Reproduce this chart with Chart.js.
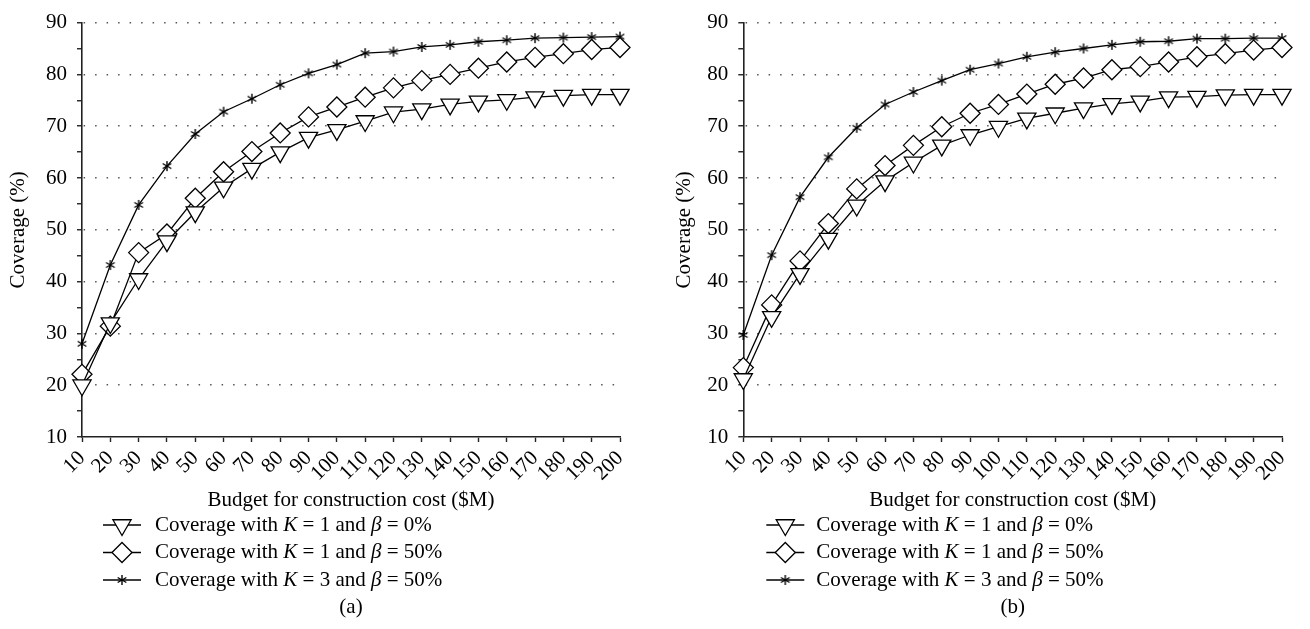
<!DOCTYPE html>
<html><head><meta charset="utf-8">
<script src="https://cdn.jsdelivr.net/npm/chart.js@4/dist/chart.umd.min.js"></script>
<style>
html,body{margin:0;padding:0;background:#fff;}
#wrap{position:relative;width:1310px;height:629px;overflow:hidden;}
.panel{position:absolute;top:0;width:655px;height:629px;}
canvas{display:block;}
</style></head><body>
<div id="wrap">
<div class="panel" style="left:0"><canvas id="ca" width="655" height="629"></canvas></div>
<div class="panel" style="left:655px"><canvas id="cb" width="655" height="629"></canvas></div>
</div>
<script>
// ---- data ----
const budgets = [10,20,30,40,50,60,70,80,90,100,110,120,130,140,150,160,170,180,190,200];
const yMin = 10, yMax = 90, yStep = 5, yLabelStep = 10;
const seriesLabels = [
  "Coverage with K = 1 and \u03B2 = 0%",
  "Coverage with K = 1 and \u03B2 = 50%",
  "Coverage with K = 3 and \u03B2 = 50%"
];
const xTitle = "Budget for construction cost ($M)";
const yTitle = "Coverage (%)";
const captions = ["(a)", "(b)"];

// panel (a)
const aK1b0  = [20.0,32.0,40.5,47.8,53.4,58.2,61.8,65.0,67.8,69.3,71.0,72.7,73.3,74.2,74.8,75.1,75.6,75.9,76.1,76.1];
const aK1b50 = [22.1,31.4,45.6,49.2,56.1,61.2,65.1,68.7,71.8,73.7,75.6,77.4,78.8,80.0,81.2,82.4,83.3,84.0,84.8,85.2];
const aK3b50 = [28.0,43.2,54.8,62.3,68.5,72.8,75.3,78.0,80.2,81.9,84.1,84.4,85.3,85.7,86.3,86.6,87.0,87.1,87.2,87.3];
// panel (b)
const bK1b0  = [21.2,33.2,41.5,48.3,54.7,59.4,63.0,66.3,68.3,69.9,71.5,72.5,73.5,74.3,74.8,75.6,75.7,76.0,76.1,76.1];
const bK1b50 = [23.4,35.5,44.0,51.2,57.9,62.4,66.3,69.9,72.5,74.2,76.2,78.1,79.3,80.9,81.5,82.4,83.4,84.0,84.7,85.2];
const bK3b50 = [29.7,45.1,56.3,64.0,69.7,74.2,76.6,78.8,80.9,82.1,83.4,84.3,85.0,85.7,86.3,86.4,86.9,86.9,87.0,87.0];

// ---- styling ----
const FONT = "'Liberation Serif', 'Times New Roman', serif";
const FS = 21;

// asterisk marker
function makeStar() {
  const c = document.createElement('canvas');
  c.width = 14; c.height = 14;
  const g = c.getContext('2d');
  g.strokeStyle = '#000'; g.lineWidth = 1.4; g.lineCap = 'butt';
  const r = 5;
  [90, 30, 150].forEach(a => {
    const t = a * Math.PI / 180;
    g.beginPath();
    g.moveTo(7 - Math.cos(t) * r, 7 - Math.sin(t) * r);
    g.lineTo(7 + Math.cos(t) * r, 7 + Math.sin(t) * r);
    g.stroke();
  });
  return c;
}
const starImg = makeStar();

function datasets(t, d, s) {
  return [
    {label: seriesLabels[0], data: t, pointStyle: 'triangle', pointRotation: 180, pointRadius: 10.5},
    {label: seriesLabels[1], data: d, pointStyle: 'rectRot', pointRotation: 0, pointRadius: 10},
    {label: seriesLabels[2], data: s, pointStyle: starImg, pointRotation: 0, pointRadius: 5}
  ].map(ds => Object.assign(ds, {
    borderColor: '#000', borderWidth: 1.3, backgroundColor: '#fff',
    pointBackgroundColor: '#fff', pointBorderColor: '#000', pointBorderWidth: 1.3,
    pointHoverRadius: ds.pointRadius, tension: 0, fill: false, clip: false
  }));
}

const legendPlugin = {
  id: 'serifLegend',
  afterDraw(chart, args, opts) {
    const ctx = chart.ctx, area = chart.chartArea;
    ctx.save();
    chart.data.datasets.forEach((ds, i) => {
      const y = opts.rows[i];
      const cx = area.left + opts.symbolOffset;
      ctx.strokeStyle = '#000'; ctx.lineWidth = 1.3;
      ctx.beginPath(); ctx.moveTo(cx - 19, y); ctx.lineTo(cx + 19, y); ctx.stroke();
      ctx.fillStyle = '#fff'; ctx.strokeStyle = '#000'; ctx.lineWidth = 1.3;
      Chart.helpers.drawPoint(ctx, {pointStyle: ds.pointStyle, rotation: ds.pointRotation, radius: ds.pointRadius, borderWidth: 1.3}, cx, y);
      // text with italic K and beta
      let x = area.left + opts.textOffset;
      ctx.fillStyle = '#000'; ctx.textBaseline = 'middle'; ctx.textAlign = 'left';
      ds.label.split(/(K|\u03B2)/).forEach(part => {
        if (!part) return;
        const it = (part === 'K' || part === '\u03B2');
        ctx.font = (it ? 'italic ' : '') + FS + 'px ' + FONT;
        ctx.fillText(part, x, y);
        x += ctx.measureText(part).width;
      });
    });
    ctx.font = FS + 'px ' + FONT;
    ctx.textAlign = 'center';
    ctx.fillText(opts.caption, (area.left + area.right) / 2, opts.captionY);
    ctx.restore();
  }
};

function makeChart(id, data, cfg) {
  return new Chart(document.getElementById(id), {
    type: 'line',
    data: {labels: budgets, datasets: data},
    plugins: [legendPlugin],
    options: {
      responsive: false, animation: false, events: [],
      layout: {padding: {left: cfg.padLeft, right: cfg.padRight, top: 17, bottom: 116}},
      plugins: {
        legend: {display: false}, tooltip: {enabled: false},
        serifLegend: {rows: [525, 552.5, 580], symbolOffset: cfg.symOff, textOffset: cfg.txtOff, caption: cfg.caption, captionY: 607}
      },
      scales: {
        x: {
          type: 'category', offset: false,
          afterFit(s) { s.height = 76; },
          grid: {drawOnChartArea: false, drawTicks: true, tickLength: 5, tickColor: '#222', tickWidth: 1.4},
          border: {display: true, color: '#222', width: 1.6},
          ticks: {color: '#000', font: {family: FONT, size: FS}, minRotation: 45, maxRotation: 45, autoSkip: false, padding: 4},
          title: {display: true, text: xTitle, color: '#000', font: {family: FONT, size: FS}, padding: {top: 0, bottom: 0}}
        },
        y: {
          min: yMin, max: yMax,
          afterFit(s) { s.width = cfg.yWidth; },
          grid: {
            drawOnChartArea: true, drawTicks: true, tickLength: 5, tickWidth: 1.4, tickColor: '#222',
            lineWidth: 1.5,
            color: c => (c.tick && c.tick.value % yLabelStep === 0 && c.tick.value !== yMin) ? '#555' : 'rgba(0,0,0,0)'
          },
          border: {display: true, color: '#222', width: 1.6, dash: [1.5, 10], dashOffset: -1},
          ticks: {
            stepSize: yStep, autoSkip: false, color: '#000', padding: 10,
            font: {family: FONT, size: FS},
            callback: v => (v % yLabelStep === 0 ? String(v) : '')
          },
          title: {display: true, text: yTitle, color: '#000', font: {family: FONT, size: FS}, padding: {top: cfg.yTitlePad, bottom: 0}}
        }
      }
    }
  });
}

makeChart('ca', datasets(aK1b0, aK1b50, aK3b50), {padLeft: 0, padRight: 35, yWidth: 82, yTitlePad: 6, symOff: 40, txtOff: 73, caption: captions[0]});
makeChart('cb', datasets(bK1b0, bK1b50, bK3b50), {padLeft: 6, padRight: 28, yWidth: 82.3, yTitlePad: 10.4, symOff: 42, txtOff: 73, caption: captions[1]});
</script>
</body></html>
